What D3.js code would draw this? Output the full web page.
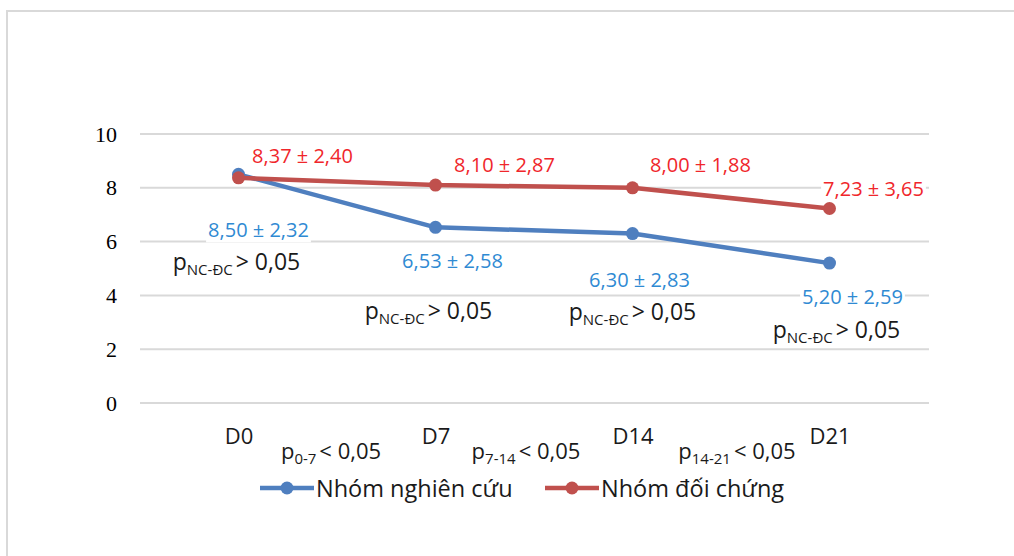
<!DOCTYPE html>
<html><head><meta charset="utf-8">
<script src="https://cdn.jsdelivr.net/npm/d3@7"></script>
<style>body{margin:0;background:#fff}svg{display:block}</style>
</head><body>
<svg id="c" width="1014" height="556"></svg>
<script>
// ---- data ----
const categories = ["D0", "D7", "D14", "D21"];
const seriesNames = ["Nhóm nghiên cứu", "Nhóm đối chứng"];
const studyValues = [8.50, 6.53, 6.30, 5.20];
const controlValues = [8.37, 8.10, 8.00, 7.23];
const studyLabels = ["8,50 ± 2,32", "6,53 ± 2,58", "6,30 ± 2,83", "5,20 ± 2,59"];
const controlLabels = ["8,37 ± 2,40", "8,10 ± 2,87", "8,00 ± 1,88", "7,23 ± 3,65"];
const yTicks = [0, 2, 4, 6, 8, 10];
const groupPText = ["> 0,05", "> 0,05", "> 0,05", "> 0,05"];
const timeSubs = ["0-7", "7-14", "14-21"];
const timePText = ["< 0,05", "< 0,05", "< 0,05"];

// ---- layout (pixel offsets for annotations) ----
const studyOff = [[20, 63], [17, 41], [7, 53], [23, 41]];
const controlOff = [[64, -15], [69, -13], [68, -16], [44, -13]];
const groupPOff = [[-2, 270], [-7, 319], [0, 320], [7, 338]];
const timePOff = [[-6, 459], [-8, 459], [6, 459]];

const C = {blue: "#4f7fbf", red: "#c0504d", blueText: "#2f8ad3", redText: "#f0262b", grid: "#d9d9d9", text: "#1a1a1a"};
const sans = "'Open Sans', sans-serif";

const svg = d3.select("#c");
svg.append("rect").attr("x", 7).attr("y", 11).attr("width", 1020).attr("height", 560)
  .attr("fill", "#fff").attr("stroke", C.grid).attr("stroke-width", 2);

const x = d3.scalePoint().domain(categories).range([140, 928]).padding(0.5);
const y = d3.scaleLinear().domain([0, 10]).range([403, 134]);

// gridlines
svg.append("g").selectAll("line").data(yTicks).join("line")
  .attr("x1", 140).attr("x2", 929).attr("y1", d => y(d)).attr("y2", d => y(d))
  .attr("stroke", C.grid).attr("stroke-width", 2);

// y axis tick labels
const yAxis = d3.axisLeft(y).tickValues(yTicks).tickSize(0).tickPadding(0).tickFormat(d3.format("d"));
const yg = svg.append("g").attr("transform", "translate(117,0)").call(yAxis);
yg.select(".domain").remove();
yg.selectAll("text").attr("font-family", "'Liberation Serif', serif").attr("font-size", 22).attr("fill", "#000");

// x axis labels
const xAxis = d3.axisBottom(x).tickSize(0).tickPadding(0);
const xg = svg.append("g").attr("transform", "translate(0,444)").call(xAxis);
xg.select(".domain").remove();
xg.selectAll("text").attr("font-family", sans).attr("font-size", 22).attr("fill", C.text).attr("dy", 0);

// lines
const line = d3.line().x((d, i) => x(categories[i])).y(d => y(d));
[[studyValues, C.blue], [controlValues, C.red]].forEach(([vals, col]) => {
  svg.append("path").datum(vals).attr("d", line).attr("fill", "none")
    .attr("stroke", col).attr("stroke-width", 4.5).attr("stroke-linejoin", "round");
  svg.append("g").selectAll("circle").data(vals).join("circle")
    .attr("cx", (d, i) => x(categories[i])).attr("cy", d => y(d)).attr("r", 6.5).attr("fill", col);
});

const labelLayer = svg.append("g");
function withBg(t) {
  const b = t.node().getBBox();
  labelLayer.insert("rect", () => t.node()).attr("x", b.x - 2).attr("y", b.y + 3)
    .attr("width", b.width + 4).attr("height", b.height - 4).attr("fill", "#fff");
}

// value labels
[[studyValues, studyLabels, studyOff, C.blueText], [controlValues, controlLabels, controlOff, C.redText]].forEach(([vals, labs, off, col]) => {
  vals.forEach((v, i) => {
    const t = labelLayer.append("text").attr("x", x(categories[i]) + off[i][0]).attr("y", y(v) + off[i][1])
      .attr("text-anchor", "middle").attr("font-family", sans).attr("font-size", 20).attr("fill", col).text(labs[i]);
    withBg(t);
  });
});

// p labels
function pText(cx, by, sub, rest, main, small) {
  const t = labelLayer.append("text").attr("x", cx).attr("y", by).attr("text-anchor", "middle")
    .attr("font-family", sans).attr("font-size", main).attr("fill", C.text);
  t.append("tspan").text("p");
  t.append("tspan").attr("font-size", small).attr("dy", 5).text(sub);
  t.append("tspan").attr("dy", -5).attr("dx", 3).text(rest);
  return t;
}
categories.forEach((c, i) => {
  const t = pText(x(c) + groupPOff[i][0], groupPOff[i][1], "NC-ĐC", groupPText[i], 23, 15);
  withBg(t);
});
timeSubs.forEach((s, i) => {
  const mid = (x(categories[i]) + x(categories[i + 1])) / 2;
  pText(mid + timePOff[i][0], timePOff[i][1], s, timePText[i], 22, 15);
});

// legend
const leg = svg.append("g").attr("transform", "translate(0,488)");
const legItems = [[260, C.blue], [545, C.red]];
seriesNames.forEach((n, i) => {
  const [lx, col] = legItems[i];
  leg.append("line").attr("x1", lx).attr("x2", lx + 54).attr("y1", 0).attr("y2", 0).attr("stroke", col).attr("stroke-width", 4.5);
  leg.append("circle").attr("cx", lx + 27).attr("cy", 0).attr("r", 6.5).attr("fill", col);
  leg.append("text").attr("x", lx + 56).attr("y", 9).attr("font-family", sans).attr("font-size", 23.5).attr("fill", C.text).text(n);
});
</script>
</body></html>
